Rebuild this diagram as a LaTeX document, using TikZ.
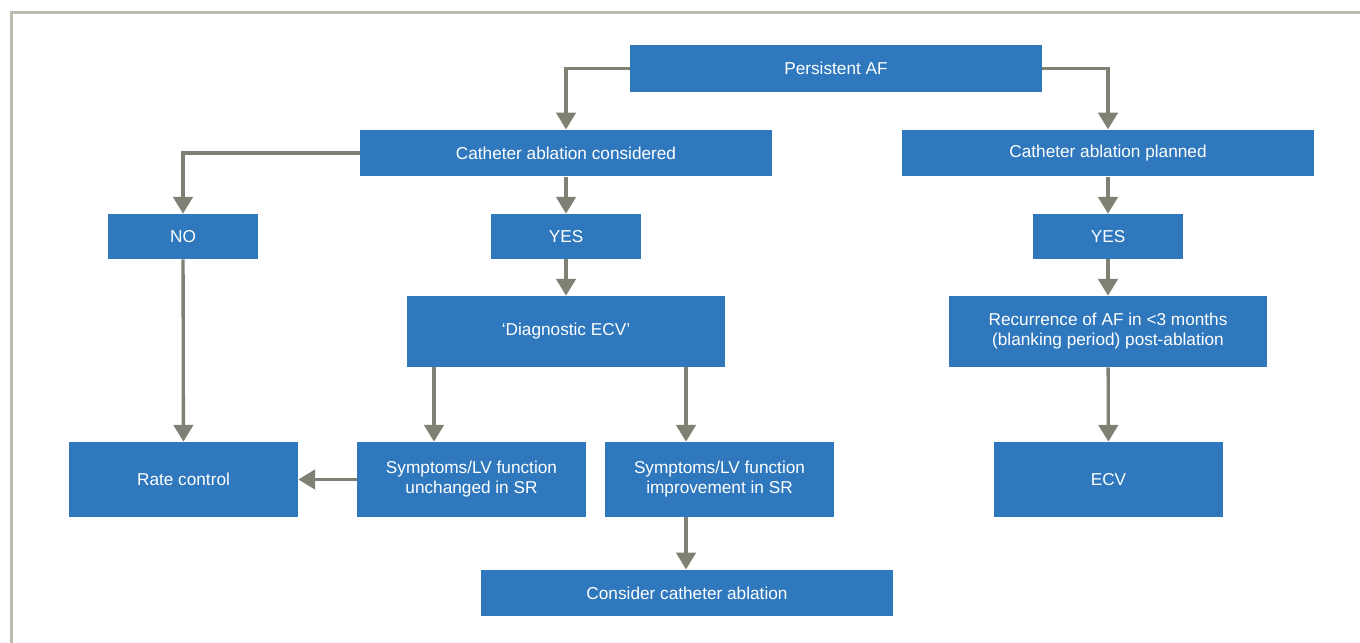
\documentclass[tikz,border=0pt]{standalone}
\usepackage{fontspec}
\setmainfont{Liberation Sans}
\usetikzlibrary{shapes,arrows.meta,positioning,calc}
\usepackage{xcolor}
\definecolor{afblue}{RGB}{47,120,190}
\definecolor{linkgray}{RGB}{128,128,116}
\definecolor{framegray}{RGB}{188,188,174}

\begin{document}
\begin{tikzpicture}[
    block/.style={rectangle, draw=none, fill=afblue, text=white, align=center, inner sep=0pt, font=\fontsize{9.8}{11.4}\selectfont},
    wide/.style={block, minimum width=8.24cm, minimum height=0.93cm},
    small/.style={block, minimum width=3.0cm, minimum height=0.9cm},
    mid/.style={block, minimum width=6.36cm, minimum height=1.42cm},
    box/.style={block, minimum width=4.58cm, minimum height=1.5cm},
    link/.style={draw=linkgray, line width=1.9pt, -{Triangle[width=11pt,length=9.5pt]}}]
    \useasboundingbox (0,0) rectangle (27.2,-12.84);
    \draw[framegray, line width=1.2pt] (0.23,-12.9) -- (0.23,-0.25) -- (27.3,-0.25);

    \node [wide] (persist) at (16.72,-1.37) {Persistent AF};
    \node [wide] (considered) at (11.32,-3.06) {Catheter ablation considered};
    \node [wide] (planned) at (22.16,-3.06) {Catheter ablation planned};
    \node [small] (no) at (3.66,-4.73) {NO};
    \node [small] (yesl) at (11.32,-4.73) {YES};
    \node [small] (yesr) at (22.16,-4.73) {YES};
    \node [mid] (diag) at (11.32,-6.63) {‘Diagnostic ECV’};
    \node [mid] (recur) at (22.16,-6.63) {Recurrence of AF in <3 months\\(blanking period) post-ablation};
    \node [box] (rate) at (3.67,-9.59) {Rate control};
    \node [box] (unchanged) at (9.43,-9.59) {Symptoms/LV function\\unchanged in SR};
    \node [box] (improved) at (14.39,-9.59) {Symptoms/LV function\\improvement in SR};
    \node [box] (ecv) at (22.17,-9.59) {ECV};
    \node [wide] (consider) at (13.74,-11.86) {Consider catheter ablation};

    \coordinate (dl) at (8.68,0);
    \coordinate (dr) at (13.72,0);

    \draw[link] (persist.west) -| (considered.north);
    \draw[link] (persist.east) -| (planned.north);
    \draw[link] (considered.west) -| (no.north);
    \draw[link] (considered) -- (yesl);
    \draw[link] (no) -- (rate);
    \draw[link] (yesl) -- (diag);
    \draw[link] (dl |- diag.south) -- (dl |- unchanged.north);
    \draw[link] (dr |- diag.south) -- (dr |- improved.north);
    \draw[link] (unchanged) -- (rate);
    \draw[link] (dr |- improved.south) -- (dr |- consider.north);
    \draw[link] (planned) -- (yesr);
    \draw[link] (yesr) -- (recur);
    \draw[link] (recur) -- (ecv);
\end{tikzpicture}
\end{document}
